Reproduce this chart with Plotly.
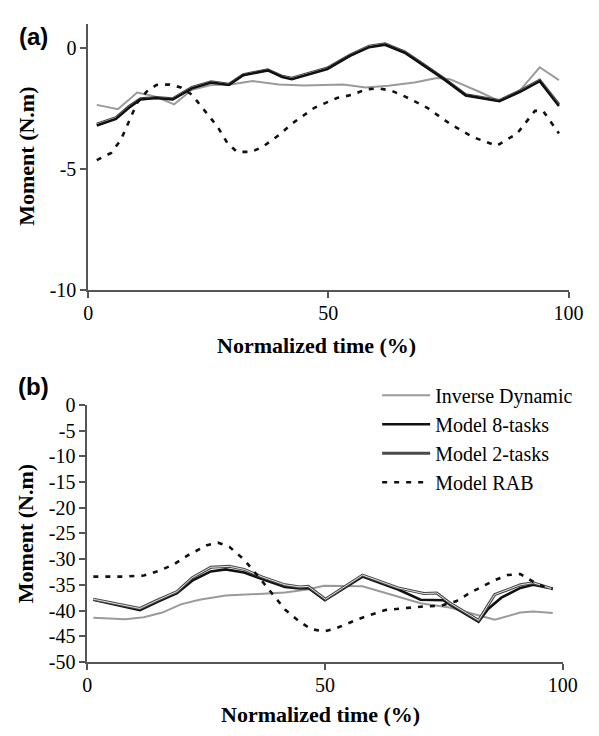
import plotly.graph_objects as go

# ---------------- Data ----------------
# Panel (a)
a_inv_t = [1.8, 6.2, 10.2, 13.9, 17.9, 21.6, 25.6, 29.6, 34.3, 39.7, 45.0, 53.1, 57.8, 62.5, 67.9, 72.6, 75.3, 81.3, 85.6, 90.0, 94.0, 98.0]
a_inv_m = [-2.35, -2.53, -1.84, -2.0, -2.33, -1.73, -1.53, -1.51, -1.37, -1.51, -1.55, -1.51, -1.63, -1.56, -1.43, -1.24, -1.29, -1.8, -2.2, -1.73, -0.8, -1.33]

a_m8_t = [1.8, 5.8, 8.5, 10.9, 14.2, 17.6, 21.6, 25.6, 29.3, 32.3, 37.4, 40.4, 42.4, 46.0, 49.8, 54.5, 58.5, 61.8, 65.9, 69.9, 73.9, 78.6, 85.6, 90.0, 94.0, 98.0]
a_m8_m = [-3.2, -2.93, -2.47, -2.13, -2.07, -2.13, -1.67, -1.43, -1.53, -1.13, -0.93, -1.2, -1.29, -1.08, -0.87, -0.33, 0.03, 0.13, -0.2, -0.73, -1.27, -1.96, -2.2, -1.8, -1.37, -2.4]

a_m2_t = a_m8_t
a_m2_m = [-3.15, -2.88, -2.42, -2.1, -2.05, -2.1, -1.63, -1.4, -1.5, -1.1, -0.9, -1.17, -1.25, -1.05, -0.83, -0.3, 0.07, 0.17, -0.16, -0.7, -1.24, -1.93, -2.17, -1.76, -1.33, -2.33]

a_rab_t = [1.8, 4.8, 6.8, 8.9, 10.2, 12.2, 14.2, 16.9, 19.3, 21.6, 24.3, 27.0, 29.0, 31.0, 34.0, 36.4, 39.7, 42.4, 47.1, 51.8, 55.1, 57.8, 60.5, 63.2, 65.9, 70.6, 75.3, 80.0, 85.0, 89.3, 93.0, 94.7, 98.0]
a_rab_m = [-4.63, -4.33, -3.8, -2.87, -2.27, -1.8, -1.53, -1.51, -1.63, -1.93, -2.6, -3.27, -3.93, -4.29, -4.29, -4.07, -3.6, -3.13, -2.47, -2.07, -1.93, -1.71, -1.67, -1.77, -2.0, -2.47, -3.13, -3.67, -4.04, -3.53, -2.6, -2.6, -3.53]

# Panel (b)
b_inv_t = [1.3, 8.0, 11.9, 15.8, 19.7, 23.6, 29.1, 35.3, 41.6, 46.3, 49.8, 57.9, 64.0, 70.1, 76.2, 82.3, 85.7, 91.1, 93.8, 97.9]
b_inv_m = [-41.4, -41.7, -41.3, -40.4, -38.8, -37.9, -37.1, -36.8, -36.5, -35.9, -35.2, -35.3, -36.9, -38.6, -39.4, -41.0, -41.8, -40.4, -40.2, -40.5]

b_m8_t = [1.3, 8.0, 11.1, 15.0, 18.9, 22.1, 26.0, 29.1, 33.0, 36.9, 41.6, 44.7, 46.5, 50.0, 57.9, 65.4, 70.1, 74.9, 76.2, 82.3, 84.3, 87.1, 91.1, 93.8, 97.2]
b_m8_m = [-37.9, -39.3, -39.9, -38.2, -36.6, -34.2, -32.4, -32.0, -32.6, -33.9, -35.4, -35.7, -35.6, -38.0, -33.4, -35.9, -37.9, -38.0, -38.8, -42.2, -39.7, -37.5, -35.6, -35.0, -35.6]

b_m2_t = [1.3, 8.0, 11.1, 15.0, 18.9, 22.1, 26.0, 29.9, 33.0, 36.9, 41.6, 44.7, 46.5, 50.1, 57.9, 65.4, 70.8, 73.5, 76.2, 82.3, 85.7, 91.1, 93.8, 97.9]
b_m2_m = [-37.8, -39.1, -39.6, -37.9, -36.3, -33.6, -31.6, -31.4, -32.0, -33.5, -35.0, -35.4, -35.3, -37.8, -33.1, -35.6, -36.7, -36.6, -38.5, -41.9, -36.9, -35.0, -34.6, -35.8]

b_rab_t = [1.3, 7.2, 11.9, 15.0, 18.1, 21.3, 25.2, 27.5, 29.9, 33.0, 36.1, 38.5, 41.6, 44.7, 47.1, 49.8, 52.5, 57.2, 62.7, 66.1, 70.8, 74.2, 77.6, 80.6, 83.0, 85.7, 88.4, 91.1, 93.8, 95.9, 97.9]
b_rab_m = [-33.4, -33.4, -33.2, -32.3, -31.1, -29.2, -27.3, -26.8, -27.6, -30.1, -33.5, -36.3, -39.8, -42.2, -43.6, -44.1, -43.4, -41.6, -39.9, -39.6, -39.2, -39.1, -38.2, -36.5, -35.3, -34.1, -33.1, -32.9, -34.4, -35.3, -35.8]

series_names = ["Inverse Dynamic", "Model 8-tasks", "Model 2-tasks", "Model RAB"]
x_ticks = [0, 50, 100]
x_labels = ["0", "50", "100"]
a_y_ticks = [0, -5, -10]
a_y_labels = ["0", "-5", "-10"]
b_y_ticks = [0, -5, -10, -15, -20, -25, -30, -35, -40, -45, -50]
b_y_labels = ["0", "-5", "-10", "-15", "-20", "-25", "-30", "-35", "-40", "-45", "-50"]

# ---------------- Figure ----------------
W, H = 599, 736
def fx(px):
    return px / W
def fy(py):
    return 1 - py / H

SERIF = "Liberation Serif"
fig = go.Figure()

def add_panel(xa, ya, inv, m8, m2, rab, legend, m8_on_top):
    g = dict(xaxis=xa, yaxis=ya, mode="lines", hoverinfo="skip")
    fig.add_trace(go.Scatter(x=inv[0], y=inv[1], name=series_names[0], legendgroup="g0",
                             showlegend=legend, line=dict(color="#9a9a9a", width=2), **g))
    m8_trace = go.Scatter(x=m8[0], y=m8[1], name=series_names[1], legendgroup="g1",
                          showlegend=legend, line=dict(color="#111111", width=2.6), **g)
    if not m8_on_top:
        fig.add_trace(m8_trace)
    fig.add_trace(go.Scatter(x=m2[0], y=m2[1], name=series_names[2], legendgroup="g2",
                             showlegend=legend, line=dict(color="#4a4a4a", width=3), **g))
    fig.add_trace(go.Scatter(x=m2[0], y=m2[1], name=series_names[2], legendgroup="g2",
                             showlegend=False, line=dict(color="#e0e0e0", width=1), **g))
    if m8_on_top:
        fig.add_trace(m8_trace)
    fig.add_trace(go.Scatter(x=rab[0], y=rab[1], name=series_names[3], legendgroup="g3",
                             showlegend=legend, line=dict(color="#111111", width=2.6, dash="5px,7px"), **g))

add_panel("x", "y", (a_inv_t, a_inv_m), (a_m8_t, a_m8_m), (a_m2_t, a_m2_m), (a_rab_t, a_rab_m), False, True)
add_panel("x2", "y2", (b_inv_t, b_inv_m), (b_m8_t, b_m8_m), (b_m2_t, b_m2_m), (b_rab_t, b_rab_m), True, False)

axis_style = dict(showline=True, linecolor="#555555", linewidth=1.5, ticks="outside", ticklen=6,
                  tickwidth=1.5, tickcolor="#555555", showgrid=False, zeroline=False,
                  tickfont=dict(family=SERIF, size=20, color="black"), fixedrange=True)

fig.update_layout(
    width=W, height=H,
    margin=dict(l=0, r=0, t=0, b=0),
    paper_bgcolor="white", plot_bgcolor="white",
    xaxis=dict(domain=[fx(86), fx(583)], range=[0, 100], tickvals=x_ticks, ticktext=x_labels,
               anchor="y", ticklabelstandoff=-2, **axis_style),
    yaxis=dict(domain=[fy(288), fy(13)], range=[-10, 1], tickvals=a_y_ticks, ticktext=a_y_labels,
               anchor="x", **axis_style),
    xaxis2=dict(domain=[fx(85), fx(577)], range=[0, 100], tickvals=x_ticks, ticktext=x_labels,
                anchor="y2", ticklabelstandoff=-2, **axis_style),
    yaxis2=dict(domain=[fy(671), fy(406)], range=[-50, 0], tickvals=b_y_ticks, ticktext=b_y_labels,
                anchor="x2", **axis_style),
    legend=dict(x=fx(385), y=fy(376), xanchor="left", yanchor="top", itemwidth=48,
                font=dict(family=SERIF, size=20, color="black"), bgcolor="rgba(0,0,0,0)",
                traceorder="grouped", tracegroupgap=0),
    showlegend=True,
)

ann = []
title_font = dict(family=SERIF, size=22, color="black")
label_font = dict(family="Liberation Sans", size=24, color="black")
common = dict(xref="paper", yref="paper", showarrow=False, xanchor="center", yanchor="middle")
ann.append(dict(text="<b>(a)</b>", x=fx(29), y=fy(26), font=label_font, **common))
ann.append(dict(text="<b>(b)</b>", x=fx(30), y=fy(387), font=label_font, **common))
ann.append(dict(text="<b>Moment (N.m)</b>", x=fx(22), y=fy(150), textangle=-90, font=title_font, **common))
ann.append(dict(text="<b>Moment (N.m)</b>", x=fx(22), y=fy(539), textangle=-90, font=title_font, **common))
ann.append(dict(text="<b>Normalized time (%)</b>", x=fx(322), y=fy(345), font=title_font, **common))
ann.append(dict(text="<b>Normalized time (%)</b>", x=fx(326), y=fy(725), font=title_font, **common))
fig.update_layout(annotations=ann)

fig.write_html("out.html")
